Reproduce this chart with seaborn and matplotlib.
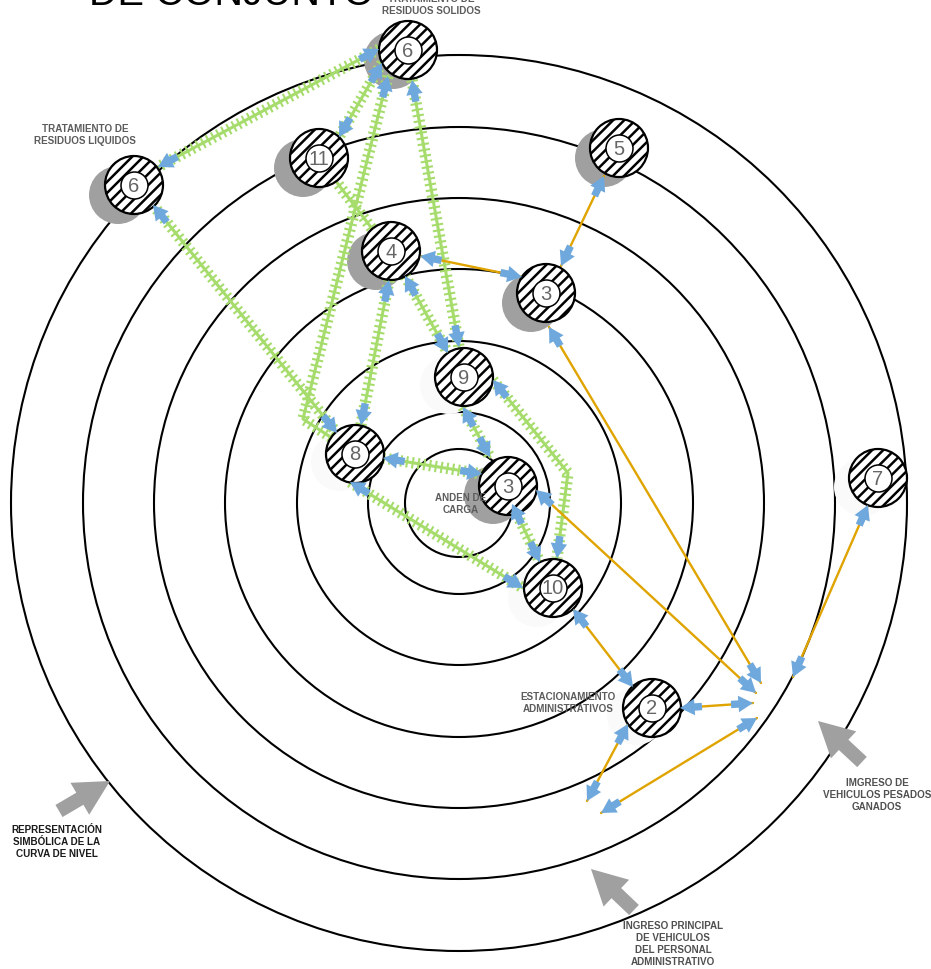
import matplotlib
matplotlib.use("Agg")
import matplotlib.pyplot as plt
import numpy as np
import pandas as pd
import seaborn as sns


# anillos de la curva de nivel (radio en px de la lamina)
ring_center = (459, 503)
ring_radius = [54, 91, 162, 234, 305, 376, 448]

# nodos: posicion, numero y sombra
node_x = [408, 319, 619, 134, 391, 546, 464, 355, 508, 553, 652, 878]
node_y = [50, 158, 148, 185, 251, 293, 377, 454, 486, 588, 708, 478]
node_label = ["6", "11", "5", "6", "4", "3", "9", "8", "3", "10", "2", "7"]
shadow_x = [393, 303, 604, 118, 376, 531, 449, 340, 493, 537, 636, 863]
shadow_y = [60, 168, 158, 195, 261, 303, 385, 462, 495, 598, 716, 487]
shadow_dark = [True, True, True, True, True, True, False, False, True, False, False, False]

# enlaces verdes (con traviesas), puntos en orden de recorrido
green_links = [
    [(379, 49), (158, 167)],
    [(382, 63), (339, 137)],
    [(388, 76), (303, 419), (332, 438)],
    [(412, 80), (459, 347)],
    [(335, 180), (373, 230)],
    [(389, 280), (361, 425)],
    [(405, 276), (448, 353)],
    [(153, 205), (337, 433)],
    [(463, 407), (490, 457)],
    [(383, 458), (482, 474)],
    [(493, 380), (568, 473), (557, 558)],
    [(350, 482), (523, 588)],
    [(512, 504), (540, 562)],
]
# punta en el inicio / en el final de cada enlace verde
green_heads = [
    (True, True), (True, True), (True, False), (True, True), (False, False), (True, True),
    (True, True), (True, True), (True, True), (True, True), (True, True), (True, True), (True, True),
]

# enlaces amarillos
yellow_links = [
    [(420, 256), (522, 277)],
    [(604, 176), (561, 266)],
    [(549, 327), (761, 683)],
    [(536, 490), (756, 693)],
    [(573, 609), (633, 687)],
    [(680, 708), (753, 703)],
    [(628, 724), (587, 801)],
    [(757, 718), (601, 813)],
    [(868, 505), (793, 677)],
]

# flechas grises (cola, punta)
grey_arrows = [
    [(59, 811), (110, 781)],
    [(862, 762), (818, 721)],
    [(634, 910), (591, 869)],
]

# textos: lineas, x centro, y de la primera linea
notes = [
    (["TRATAMIENTO DE", "RESIDUOS SOLIDOS"], 431, -1, "#5c5c5c"),
    (["TRATAMIENTO DE", "RESIDUOS LIQUIDOS"], 85, 129, "#5c5c5c"),
    (["ANDEN DE", "CARGA"], 461, 498, "#5c5c5c"),
    (["ESTACIONAMIENTO", "ADMINISTRATIVOS"], 568, 697, "#5c5c5c"),
    (["IMGRESO DE", "VEHICULOS PESADOS", "GANADOS"], 877, 783, "#505050"),
    (["INGRESO PRINCIPAL", "DE VEHICULOS", "DEL PERSONAL", "ADMINISTRATIVO"], 673, 926, "#505050"),
    (["REPRESENTACIÓN", "SIMBÓLICA DE LA", "CURVA DE NIVEL"], 57, 830, "#1a1a1a"),
]

GREEN = "#a6dc6c"
YELLOW = "#e0a400"
BLUE = "#6fa8dc"
GREY = "#a0a0a0"
PX = 0.72  # px a puntos con dpi=100


def disc_area(diameter_px):
    return (diameter_px * PX) ** 2


def links_frame(links):
    rows = []
    for i, link in enumerate(links):
        for x, y in link:
            rows.append({"link": i, "x": x, "y": y})
    return pd.DataFrame(rows)


def blue_head(ax, tip, origin):
    tip = np.array(tip, dtype=float)
    origin = np.array(origin, dtype=float)
    direction = (origin - tip) / np.linalg.norm(origin - tip)
    tail = tip + direction * 22
    ax.annotate(
        "",
        xy=tip,
        xytext=tail,
        arrowprops=dict(
            arrowstyle="simple,head_length=0.75,head_width=0.85,tail_width=0.38",
            mutation_scale=14,
            color=BLUE,
            lw=0,
            shrinkA=0,
            shrinkB=0,
        ),
        zorder=6,
    )


sns.set_theme(style="white")
plt.rcParams["font.family"] = ["Liberation Sans", "DejaVu Sans"]
plt.rcParams["hatch.linewidth"] = 1.8
plt.rcParams["lines.scale_dashes"] = False

fig = plt.figure(figsize=(9.31, 9.69), dpi=100)
ax = fig.add_axes([0, 0, 1, 1])

for radius in ring_radius:
    sns.scatterplot(
        x=[ring_center[0]], y=[ring_center[1]], s=disc_area(2 * radius),
        facecolor="none", edgecolor="black", linewidth=1.5, ax=ax, zorder=1, legend=False,
    )

nodes = pd.DataFrame({
    "x": node_x, "y": node_y, "label": node_label,
    "sx": shadow_x, "sy": shadow_y, "dark": shadow_dark,
})
sns.scatterplot(
    data=nodes[nodes["dark"]], x="sx", y="sy", s=disc_area(58),
    color=GREY, edgecolor="none", ax=ax, zorder=2, legend=False,
)
sns.scatterplot(
    data=nodes[~nodes["dark"]], x="sx", y="sy", s=disc_area(58),
    color="#fafafa", edgecolor="none", ax=ax, zorder=2, legend=False,
)

green_df = links_frame(green_links)
sns.lineplot(
    data=green_df, x="x", y="y", units="link", estimator=None, sort=False,
    color=GREEN, linewidth=2.2, ax=ax, zorder=3, legend=False,
)
sns.lineplot(
    data=green_df, x="x", y="y", units="link", estimator=None, sort=False,
    color=GREEN, linewidth=8.2, linestyle=(0, (1.5, 2.7)), ax=ax, zorder=3, legend=False,
)
sns.lineplot(
    data=links_frame(yellow_links), x="x", y="y", units="link", estimator=None, sort=False,
    color=YELLOW, linewidth=1.7, ax=ax, zorder=3, legend=False,
)

sns.scatterplot(
    data=nodes, x="x", y="y", s=disc_area(58), facecolor="white", edgecolor="black",
    linewidth=1.6, hatch="///", ax=ax, zorder=4, legend=False,
)
sns.scatterplot(
    data=nodes, x="x", y="y", s=disc_area(27), color="white", edgecolor="black",
    linewidth=1.1, ax=ax, zorder=5, legend=False,
)
for _, row in nodes.iterrows():
    ax.text(row["x"], row["y"] - 1, row["label"], ha="center", va="center_baseline",
            fontsize=14.5, color="#666666", zorder=6)

for link, (at_start, at_end) in zip(green_links, green_heads):
    if at_start:
        blue_head(ax, link[0], link[1])
    if at_end:
        blue_head(ax, link[-1], link[-2])
for link in yellow_links:
    blue_head(ax, link[0], link[1])
    blue_head(ax, link[-1], link[-2])

for tail, tip in grey_arrows:
    ax.annotate(
        "",
        xy=tip,
        xytext=tail,
        arrowprops=dict(
            arrowstyle="simple,head_length=0.7,head_width=0.74,tail_width=0.28",
            mutation_scale=36,
            color=GREY,
            lw=0,
            shrinkA=0,
            shrinkB=0,
        ),
        zorder=6,
    )

for lines, x, y, color in notes:
    for i, line in enumerate(lines):
        ax.text(x, y + 12 * i, line, ha="center", va="center", fontsize=7.1,
                fontweight="bold", color=color, zorder=7)

ax.text(232, 5, "DE CONJUNTO", ha="center", va="baseline", fontsize=28.5, color="black", zorder=7)

ax.set_xlim(0, 931)
ax.set_ylim(969, 0)
ax.axis("off")
fig.savefig("out.png", dpi=100)
